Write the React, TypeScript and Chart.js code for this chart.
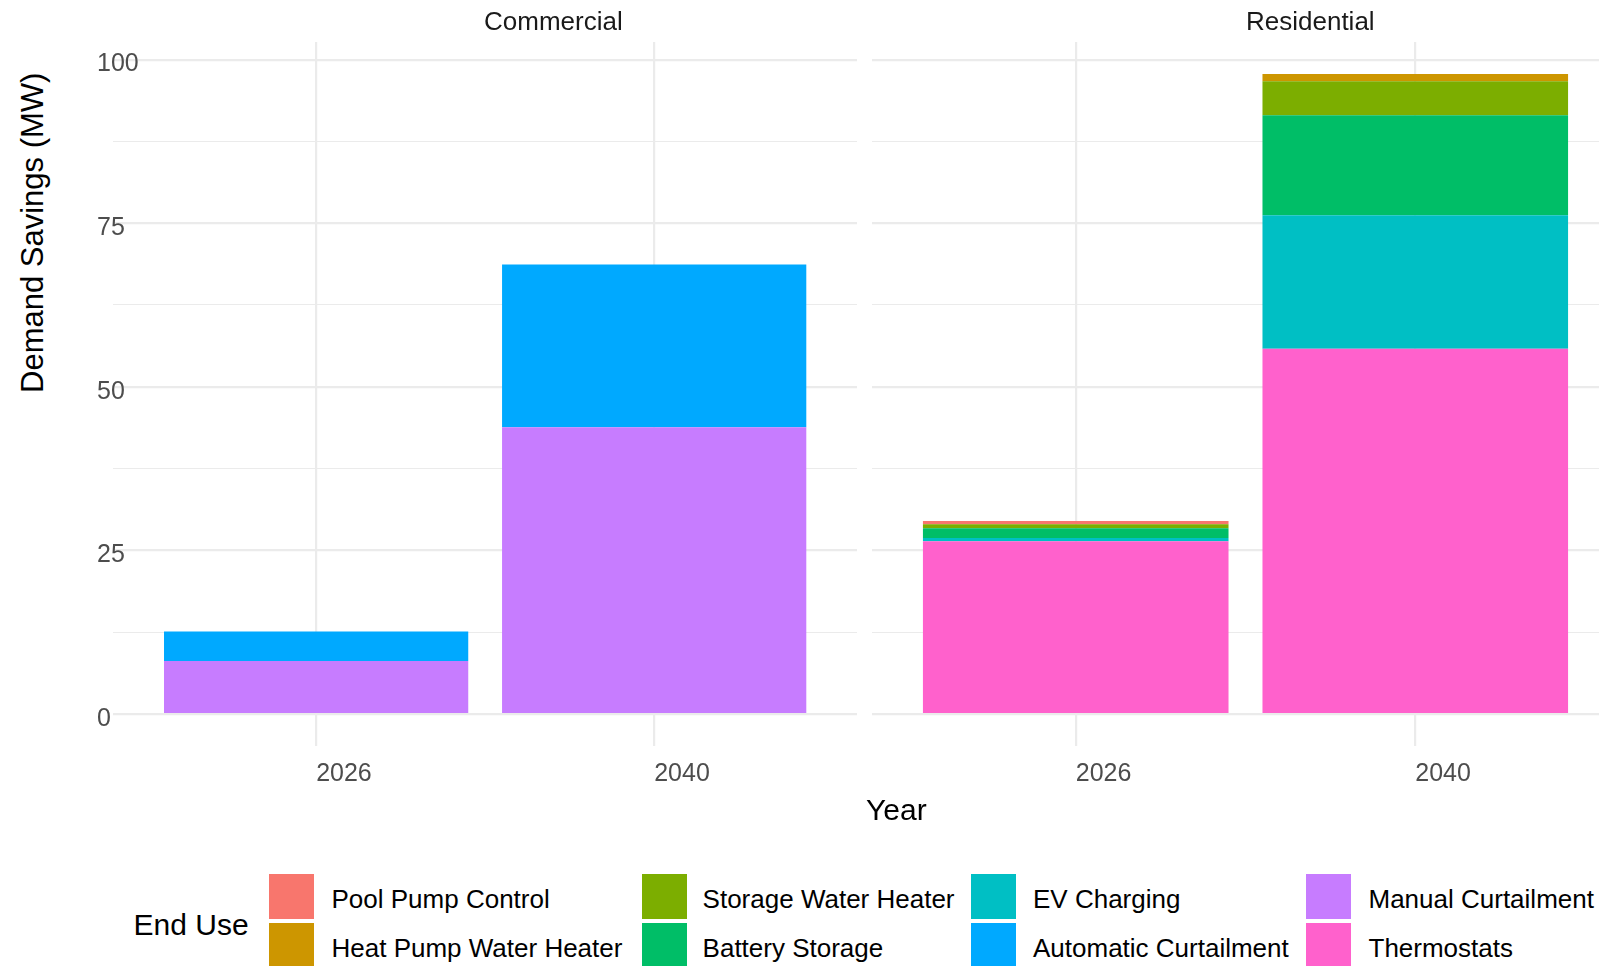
import React, { useEffect, useRef } from 'react';
import { Chart, registerables } from 'chart.js';

Chart.register(...registerables);

// ---------- data ----------
const years = ['2026', '2040'];
const yGridValues = [0, 12.5, 25, 37.5, 50, 62.5, 75, 87.5, 100];
const yLabelValues = [0, 25, 50, 75, 100];

const endUses = [
  'Pool Pump Control',
  'Heat Pump Water Heater',
  'Storage Water Heater',
  'Battery Storage',
  'EV Charging',
  'Automatic Curtailment',
  'Manual Curtailment',
  'Thermostats',
];
const endUseColors = [
  '#F8766D',
  '#CD9600',
  '#7CAE00',
  '#00BE67',
  '#00BFC4',
  '#00A9FF',
  '#C77CFF',
  '#FF61CC',
];

// Commercial facet (values for 2026, 2040)
const comAutomaticCurtailment = [4.5, 24.9];
const comManualCurtailment = [8.1, 43.8];

// Residential facet (values for 2026, 2040)
const resPoolPumpControl = [0.5, 0];
const resHeatPumpWaterHeater = [0, 1.1];
const resStorageWaterHeater = [0.6, 5.2];
const resBatteryStorage = [1.5, 15.3];
const resEVCharging = [0.5, 20.4];
const resThermostats = [26.4, 55.8];

type Series = { name: string; values: number[] };

// stacking order: bottom first (reverse of legend order)
const commercialSeries: Series[] = [
  { name: 'Manual Curtailment', values: comManualCurtailment },
  { name: 'Automatic Curtailment', values: comAutomaticCurtailment },
];
const residentialSeries: Series[] = [
  { name: 'Thermostats', values: resThermostats },
  { name: 'EV Charging', values: resEVCharging },
  { name: 'Battery Storage', values: resBatteryStorage },
  { name: 'Storage Water Heater', values: resStorageWaterHeater },
  { name: 'Heat Pump Water Heater', values: resHeatPumpWaterHeater },
  { name: 'Pool Pump Control', values: resPoolPumpControl },
];

const totals = [commercialSeries, residentialSeries].flatMap((ss) =>
  years.map((_, i) => ss.reduce((a, s) => a + s.values[i], 0))
);
const dataMax = Math.max(...totals);
const yMin = -0.05 * dataMax;
const yMax = dataMax + 0.05 * dataMax;

const FONT = '"Liberation Sans", Arial, Helvetica, sans-serif';
const colorOf = (name: string) => endUseColors[endUses.indexOf(name)];

function FacetChart(props: {
  left: number;
  width: number;
  yAxisWidth: number;
  showYLabels: boolean;
  series: Series[];
}) {
  const ref = useRef<HTMLCanvasElement>(null);
  useEffect(() => {
    const { yAxisWidth, showYLabels, series } = props;
    const chart = new Chart(ref.current as HTMLCanvasElement, {
      type: 'bar',
      data: {
        datasets: series.map((s) => ({
          label: s.name,
          data: s.values.map((v, i) => ({ x: i + 1, y: v })),
          backgroundColor: colorOf(s.name),
          borderWidth: 0,
          categoryPercentage: 1,
          barPercentage: 0.9,
        })),
      },
      options: {
        animation: false,
        responsive: true,
        maintainAspectRatio: false,
        layout: { padding: { top: 42, left: 0, right: 0, bottom: 0 } },
        plugins: { legend: { display: false }, tooltip: { enabled: false } },
        scales: {
          x: {
            type: 'linear',
            stacked: true,
            offset: false,
            min: 0.4,
            max: 2.6,
            afterBuildTicks: (s: any) => {
              s.ticks = years.map((_, i) => ({ value: i + 1 }));
            },
            afterFit: (s: any) => {
              s.height = 54;
              s.paddingLeft = 0;
              s.paddingRight = 0;
            },
            ticks: {
              callback: (v: any) => years[Math.round(Number(v)) - 1] ?? '',
              align: 'start',
              padding: 13.5,
              maxRotation: 0,
              autoSkip: false,
              color: '#4D4D4D',
              font: { family: FONT, size: 25 },
            },
            grid: { color: '#EBEBEB', lineWidth: 2.2, drawTicks: false, offset: false },
            border: { display: false },
          },
          y: {
            type: 'linear',
            stacked: true,
            min: yMin,
            max: yMax,
            afterBuildTicks: (s: any) => {
              s.ticks = yGridValues.map((v) => ({ value: v }));
            },
            afterFit: (s: any) => {
              s.width = yAxisWidth;
              s.paddingTop = 0;
              s.paddingBottom = 0;
            },
            ticks: {
              display: showYLabels,
              callback: (v: any) => (yLabelValues.includes(Number(v)) ? String(v) : ''),
              mirror: true,
              crossAlign: 'near',
              padding: -yAxisWidth,
              labelOffset: 5,
              autoSkip: false,
              color: '#4D4D4D',
              font: { family: FONT, size: 25 },
            },
            grid: {
              color: '#EBEBEB',
              lineWidth: (ctx: any) =>
                ctx.tick && yLabelValues.includes(ctx.tick.value) ? 2.2 : 1.1,
              drawTicks: false,
            },
            border: { display: false },
          },
        },
      } as any,
    });
    return () => chart.destroy();
  }, []);
  return (
    <div style={{ position: 'absolute', left: props.left, top: 0, width: props.width, height: 800 }}>
      <canvas ref={ref} />
    </div>
  );
}

// legend layout: column-major, 2 rows
const legendColumns = [
  { keyX: 269, textX: 331.5 },
  { keyX: 641.5, textX: 702.6 },
  { keyX: 971, textX: 1033 },
  { keyX: 1306, textX: 1368.5 },
];
const legendRows = [
  { keyY: 874, textTop: 886 },
  { keyY: 923, textTop: 935 },
];

export default function App() {
  return (
    <div
      style={{
        position: 'absolute',
        left: 0,
        top: 0,
        width: 1599,
        height: 966,
        overflow: 'hidden',
        background: '#ffffff',
        fontFamily: FONT,
      }}
    >
      <FacetChart left={97} width={760} yAxisWidth={16.3} showYLabels={true} series={commercialSeries} />
      <FacetChart left={872} width={747} yAxisWidth={0} showYLabels={false} series={residentialSeries} />

      {/* facet strips */}
      <div style={{ position: 'absolute', left: 484, top: 8, fontSize: 26, lineHeight: '26px', color: '#1A1A1A', whiteSpace: 'nowrap' }}>
        Commercial
      </div>
      <div style={{ position: 'absolute', left: 1246, top: 8, fontSize: 26, lineHeight: '26px', color: '#1A1A1A', whiteSpace: 'nowrap' }}>
        Residential
      </div>

      {/* axis titles */}
      <div style={{ position: 'absolute', left: 866, top: 795, fontSize: 30, lineHeight: '30px', color: '#000', whiteSpace: 'nowrap' }}>
        Year
      </div>
      <div
        style={{
          position: 'absolute',
          left: 17.4,
          top: 393,
          fontSize: 31,
          lineHeight: '31px',
          color: '#000',
          whiteSpace: 'nowrap',
          transformOrigin: '0 0',
          transform: 'rotate(-90deg)',
        }}
      >
        Demand Savings (MW)
      </div>

      {/* legend */}
      <div style={{ position: 'absolute', left: 133.6, top: 910.3, fontSize: 30, lineHeight: '30px', color: '#000', whiteSpace: 'nowrap' }}>
        End Use
      </div>
      {endUses.map((name, idx) => {
        const col = legendColumns[Math.floor(idx / 2)];
        const row = legendRows[idx % 2];
        return (
          <React.Fragment key={name}>
            <div
              style={{
                position: 'absolute',
                left: col.keyX,
                top: row.keyY,
                width: 45,
                height: 45,
                background: endUseColors[idx],
              }}
            />
            <div
              style={{
                position: 'absolute',
                left: col.textX,
                top: row.textTop,
                fontSize: 26,
                lineHeight: '26px',
                color: '#000',
                whiteSpace: 'nowrap',
              }}
            >
              {name}
            </div>
          </React.Fragment>
        );
      })}
    </div>
  );
}
